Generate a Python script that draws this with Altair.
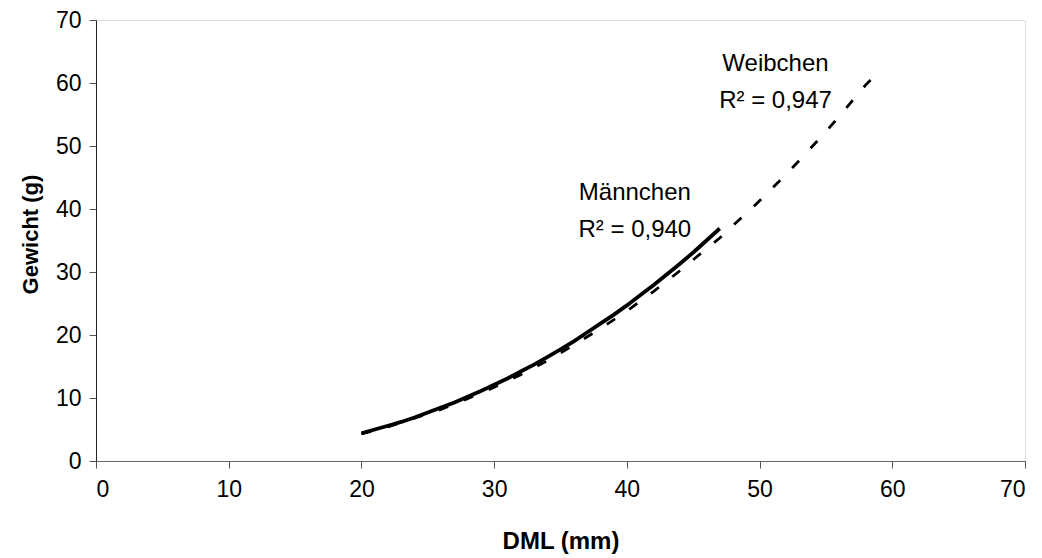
import altair as alt
import pandas as pd

# Männchen (solid) – fitted weights
male_x = [20, 21, 22, 23, 24, 25, 26, 27, 28, 29, 30, 31, 32, 33, 34, 35, 36, 37, 38, 39, 40, 41, 42, 43, 44, 45, 46, 47]
male_y = [4.4, 5.0, 5.6, 6.2, 6.9, 7.7, 8.5, 9.3, 10.2, 11.1, 12.1, 13.1, 14.2, 15.3, 16.5, 17.7, 19.0, 20.4, 21.8, 23.2, 24.7, 26.3, 27.9, 29.6, 31.3, 33.1, 35.0, 36.9]

# Weibchen (dashed)
female_x = [20, 22, 24, 26, 28, 30, 32, 34, 36, 38, 40, 42, 44, 46, 47, 48, 49, 50, 51, 52, 53, 54, 55, 56, 57, 58, 58.6]
female_y = [4.3, 5.4, 6.8, 8.2, 9.9, 11.7, 13.7, 15.9, 18.4, 21.0, 23.8, 26.9, 30.2, 33.7, 35.4, 37.4, 39.3, 41.3, 43.4, 45.5, 47.7, 50.0, 52.3, 54.7, 57.2, 59.7, 61.0]

# Annotations
ann_text = ["Männchen", "R² = 0,940", "Weibchen", "R² = 0,947"]
ann_x = [40.6, 40.6, 51.2, 51.2]
ann_y = [42.5, 36.7, 63.0, 57.1]

ticks = [0, 10, 20, 30, 40, 50, 60, 70]

male = pd.DataFrame({"x": male_x, "y": male_y})
female = pd.DataFrame({"x": female_x, "y": female_y})
ann = pd.DataFrame({"t": ann_text, "x": ann_x, "y": ann_y})

FONT = "Liberation Sans"

xscale = alt.Scale(domain=[0, 70], nice=False, zero=True)
yscale = alt.Scale(domain=[0, 70], nice=False, zero=True)

xaxis = alt.Axis(
    title="DML (mm)", values=ticks, grid=False, domainColor="#666666", tickColor="#555555",
    tickSize=7, labelFontSize=23, labelFont=FONT, labelColor="black", labelPadding=10,
    titleFont=FONT, titleFontSize=24, titleFontWeight="bold", titleColor="black", titlePadding=28,
)
yaxis = alt.Axis(
    title="Gewicht (g)", values=ticks, grid=False, domainColor="#222222", tickColor="#555555",
    tickSize=7, labelFontSize=23, labelFont=FONT, labelColor="black", labelPadding=8,
    titleFont=FONT, titleFontSize=22, titleFontWeight="bold", titleColor="black", titlePadding=13,
    titleY=214,
)

fem = alt.Chart(female).mark_line(color="black", strokeWidth=2.8, strokeDash=[10, 17]).encode(
    x=alt.X("x:Q", scale=xscale, axis=xaxis),
    y=alt.Y("y:Q", scale=yscale, axis=yaxis),
)
mal = alt.Chart(male).mark_line(color="black", strokeWidth=3.8).encode(
    x=alt.X("x:Q", scale=xscale),
    y=alt.Y("y:Q", scale=yscale),
)
txt = alt.Chart(ann).mark_text(font=FONT, fontSize=24, color="black", align="center", baseline="middle").encode(
    x=alt.X("x:Q", scale=xscale),
    y=alt.Y("y:Q", scale=yscale),
    text="t:N",
)

chart = alt.layer(fem, mal, txt).properties(
    width=929, height=441,
    padding={"left": 88, "top": 12, "right": 9, "bottom": 96},
    autosize=alt.AutoSizeParams(type="none"),
).configure_view(stroke=None).configure(background="white")

chart.save("out.html", embed_options={"renderer": "svg", "actions": False})
